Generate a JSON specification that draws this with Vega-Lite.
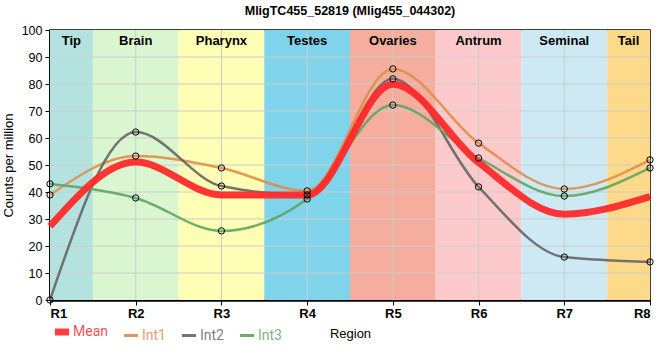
{
  "$schema": "https://vega.github.io/schema/vega-lite/v6.json",
  "width": 600,
  "height": 270,
  "autosize": {"type": "none"},
  "padding": {"left": 50, "top": 30, "right": 10, "bottom": 60},
  "background": "white",
  "title": {"text": "MligTC455_52819 (Mlig455_044302)", "fontSize": 12.5, "fontWeight": "bold", "font": "Liberation Sans", "color": "#000", "offset": 7},
  "config": {
    "view": {"stroke": "#000", "strokeWidth": 1.5},
    "axis": {"labelFont": "Liberation Sans", "titleFont": "Liberation Sans", "labelColor": "#000", "titleColor": "#000", "domainColor": "#000", "tickColor": "#000", "grid": false, "labelOverlap": false}
  },
  "datasets": {
    "bands": [
      {"name": "Tip", "start": 1, "end": 1.5},
      {"name": "Brain", "start": 1.5, "end": 2.5},
      {"name": "Pharynx", "start": 2.5, "end": 3.5},
      {"name": "Testes", "start": 3.5, "end": 4.5},
      {"name": "Ovaries", "start": 4.5, "end": 5.5},
      {"name": "Antrum", "start": 5.5, "end": 6.5},
      {"name": "Seminal", "start": 6.5, "end": 7.5},
      {"name": "Tail", "start": 7.5, "end": 8}
    ],
    "series": [
      {"region": 1, "series": "Int1", "value": 38.9},
      {"region": 2, "series": "Int1", "value": 53.3},
      {"region": 3, "series": "Int1", "value": 48.9},
      {"region": 4, "series": "Int1", "value": 40.4},
      {"region": 5, "series": "Int1", "value": 85.6},
      {"region": 6, "series": "Int1", "value": 58.1},
      {"region": 7, "series": "Int1", "value": 41.1},
      {"region": 8, "series": "Int1", "value": 51.9},
      {"region": 1, "series": "Int2", "value": 0},
      {"region": 2, "series": "Int2", "value": 62.2},
      {"region": 3, "series": "Int2", "value": 42.2},
      {"region": 4, "series": "Int2", "value": 38.9},
      {"region": 5, "series": "Int2", "value": 81.9},
      {"region": 6, "series": "Int2", "value": 41.9},
      {"region": 7, "series": "Int2", "value": 15.9},
      {"region": 8, "series": "Int2", "value": 14.1},
      {"region": 1, "series": "Int3", "value": 43.0},
      {"region": 2, "series": "Int3", "value": 37.8},
      {"region": 3, "series": "Int3", "value": 25.6},
      {"region": 4, "series": "Int3", "value": 37.4},
      {"region": 5, "series": "Int3", "value": 72.2},
      {"region": 6, "series": "Int3", "value": 52.6},
      {"region": 7, "series": "Int3", "value": 38.5},
      {"region": 8, "series": "Int3", "value": 48.9},
      {"region": 1, "series": "Mean", "value": 27.3},
      {"region": 2, "series": "Mean", "value": 51.1},
      {"region": 3, "series": "Mean", "value": 38.9},
      {"region": 4, "series": "Mean", "value": 38.9},
      {"region": 5, "series": "Mean", "value": 79.9},
      {"region": 6, "series": "Mean", "value": 50.9},
      {"region": 7, "series": "Mean", "value": 31.8},
      {"region": 8, "series": "Mean", "value": 38.3}
    ],
    "ygrid": [{"v": 10}, {"v": 20}, {"v": 30}, {"v": 40}, {"v": 50}, {"v": 60}, {"v": 70}, {"v": 80}, {"v": 90}],
    "xgrid": [{"v": 2}, {"v": 3}, {"v": 4}, {"v": 5}, {"v": 6}, {"v": 7}]
  },
  "layer": [
    {
      "data": {"name": "bands"},
      "mark": {"type": "rect"},
      "encoding": {
        "x": {"field": "start", "type": "quantitative", "scale": {"domain": [1, 8], "nice": false, "zero": false},
          "axis": {"values": [1, 2, 3, 4, 5, 6, 7, 8], "labelExpr": "'R' + datum.value", "title": "Region", "titleFontSize": 13, "titleFontWeight": "normal", "labelFontSize": 13, "labelFontWeight": "bold", "domainWidth": 2.5, "tickSize": 5, "labelPadding": 2, "titlePadding": 7}},
        "x2": {"field": "end"},
        "fill": {"field": "name", "type": "nominal", "legend": null,
          "scale": {"domain": ["Tip", "Brain", "Pharynx", "Testes", "Ovaries", "Antrum", "Seminal", "Tail"],
            "range": ["#b4e3df", "#d9f6d0", "#fefeb4", "#7fd3ea", "#f5ad9e", "#fdcacb", "#cdeaf4", "#fdd98a"]}}
      }
    },
    {
      "data": {"name": "ygrid"},
      "mark": {"type": "rule", "color": "#cccccc", "strokeWidth": 1},
      "encoding": {"y": {"field": "v", "type": "quantitative", "scale": {"domain": [0, 100], "nice": false},
        "axis": {"values": [0, 10, 20, 30, 40, 50, 60, 70, 80, 90, 100], "labelOverlap": false, "title": "Counts per million", "titleFontSize": 13, "titleFontWeight": "normal", "labelFontSize": 12.5, "domainWidth": 2.5, "tickSize": 5, "labelPadding": 3, "titlePadding": 6}}}
    },
    {
      "data": {"name": "xgrid"},
      "mark": {"type": "rule", "color": "#cccccc", "strokeWidth": 1},
      "encoding": {"x": {"field": "v", "type": "quantitative"}}
    },
    {
      "data": {"name": "bands"},
      "transform": [{"calculate": "(datum.start + datum.end) / 2", "as": "mid"}, {"calculate": "96", "as": "labelPos"}],
      "mark": {"type": "text", "fontWeight": "bold", "fontSize": 13, "font": "Liberation Sans", "color": "#000"},
      "encoding": {
        "x": {"field": "mid", "type": "quantitative"},
        "y": {"field": "labelPos", "type": "quantitative",
          "axis": {"values": [0, 10, 20, 30, 40, 50, 60, 70, 80, 90, 100], "labelOverlap": false, "title": "Counts per million", "titleFontSize": 13, "titleFontWeight": "normal", "labelFontSize": 12.5, "domainWidth": 2.5, "tickSize": 5, "labelPadding": 3, "titlePadding": 6}},
        "text": {"field": "name"}
      }
    },
    {
      "data": {"name": "series"},
      "transform": [{"filter": "datum.series !== 'Mean'"}],
      "mark": {"type": "line", "interpolate": "monotone", "strokeWidth": 2.5, "opacity": 0.9},
      "encoding": {
        "x": {"field": "region", "type": "quantitative"},
        "y": {"field": "value", "type": "quantitative",
          "axis": {"values": [0, 10, 20, 30, 40, 50, 60, 70, 80, 90, 100], "labelOverlap": false, "title": "Counts per million", "titleFontSize": 13, "titleFontWeight": "normal", "labelFontSize": 12.5, "domainWidth": 2.5, "tickSize": 5, "labelPadding": 3, "titlePadding": 6}},
        "stroke": {"field": "series", "type": "nominal",
          "scale": {"domain": ["Mean", "Int1", "Int2", "Int3"], "range": ["#ff2a2a", "#e08d4a", "#666666", "#5fa563"]},
          "legend": {"orient": "none", "legendX": 5, "legendY": 295, "direction": "horizontal", "title": null, "symbolType": "stroke", "symbolSize": 200, "labelFontSize": 14, "labelFont": "Roboto", "columnPadding": 9, "labelOffset": 4,
            "labelColor": {"expr": "scale('stroke', datum.value)"},
            "symbolStrokeWidth": {"expr": "datum.value === 'Mean' ? 7 : 3"},
            "labelOpacity": 0.85}}
      }
    },
    {
      "data": {"name": "series"},
      "transform": [{"filter": "datum.series === 'Mean'"}],
      "mark": {"type": "line", "interpolate": "monotone", "strokeWidth": 7, "opacity": 0.95, "stroke": "#ff2a2a"},
      "encoding": {
        "x": {"field": "region", "type": "quantitative"},
        "y": {"field": "value", "type": "quantitative",
          "axis": {"values": [0, 10, 20, 30, 40, 50, 60, 70, 80, 90, 100], "labelOverlap": false, "title": "Counts per million", "titleFontSize": 13, "titleFontWeight": "normal", "labelFontSize": 12.5, "domainWidth": 2.5, "tickSize": 5, "labelPadding": 3, "titlePadding": 6}}
      }
    },
    {
      "data": {"name": "series"},
      "transform": [{"filter": "datum.series !== 'Mean'"}],
      "mark": {"type": "point", "filled": false, "stroke": "#000", "strokeWidth": 1, "size": 40, "opacity": 1},
      "encoding": {
        "x": {"field": "region", "type": "quantitative"},
        "y": {"field": "value", "type": "quantitative",
          "axis": {"values": [0, 10, 20, 30, 40, 50, 60, 70, 80, 90, 100], "labelOverlap": false, "title": "Counts per million", "titleFontSize": 13, "titleFontWeight": "normal", "labelFontSize": 12.5, "domainWidth": 2.5, "tickSize": 5, "labelPadding": 3, "titlePadding": 6}}
      }
    }
  ]
}
